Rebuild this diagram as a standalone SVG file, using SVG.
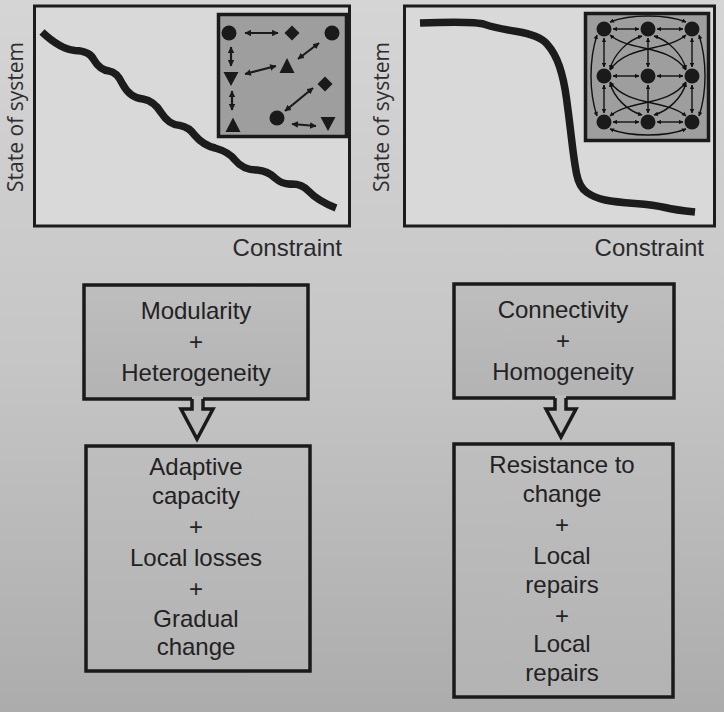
<svg xmlns="http://www.w3.org/2000/svg" width="724" height="712" viewBox="0 0 724 712">
<defs>
<linearGradient id="bg" x1="0" y1="0" x2="0" y2="1">
<stop offset="0" stop-color="#d5d5d5"/>
<stop offset="0.5" stop-color="#c6c6c6"/>
<stop offset="1" stop-color="#acacac"/>
</linearGradient>
<linearGradient id="boxfill" x1="0" y1="0" x2="0" y2="1">
<stop offset="0" stop-color="#bebebe"/>
<stop offset="1" stop-color="#b3b3b3"/>
</linearGradient>
<marker id="ah" viewBox="0 0 6 6" refX="5.5" refY="3" markerWidth="6.5" markerHeight="6.5" markerUnits="userSpaceOnUse" orient="auto-start-reverse">
<path d="M0,0 L6,3 L0,6 z" fill="#1a1a1a"/>
</marker>
<marker id="ah2" viewBox="0 0 6 6" refX="5.5" refY="3" markerWidth="4.5" markerHeight="4.5" markerUnits="userSpaceOnUse" orient="auto-start-reverse">
<path d="M0,0 L6,3 L0,6 z" fill="#111"/>
</marker>
</defs>
<style>
.frame{fill:#d9d9d9;stroke:#1c1c1c;stroke-width:3}
.curve{fill:none;stroke:#1c1c1c;stroke-width:7.5;stroke-linecap:butt;stroke-linejoin:round}
.inset{fill:#9e9e9e;stroke:#1a1a1a;stroke-width:3.5}
.sh{fill:#1a1a1a}
.ar{stroke:#1a1a1a;stroke-width:2.2;fill:none;marker-start:url(#ah);marker-end:url(#ah)}
.nw{stroke:#111;stroke-width:1.4;fill:none;marker-start:url(#ah2);marker-end:url(#ah2)}
.ax{font-family:"Open Sans","DejaVu Sans",sans-serif;font-size:21px;fill:#2e2e2e}
.cx{font-family:"Liberation Sans",Arial,sans-serif;font-size:24px;fill:#2a2a2a;text-anchor:end}
.box{stroke:#1a1a1a;stroke-width:3.5;fill:url(#boxfill)}
.bt{font-family:"Liberation Sans",Arial,sans-serif;font-size:24px;fill:#222;text-anchor:middle}
.hol{fill:none;stroke:#1a1a1a;stroke-width:3.5;stroke-linejoin:miter}
</style>
<rect x="0" y="0" width="724" height="712" fill="url(#bg)"/>

<g id="plot-left">
<rect class="frame" x="34.5" y="6" width="315" height="220"/>
<path class="curve" d="M42,32 Q60,49 75,50.5 Q90,51 94,60 Q100,70 109,71 Q117,72 122.5,84 Q130,98 143,99 Q154,101 161,112.5 Q169,125 180,125.5 Q189,127 195,135.5 Q203,145 215,148 Q229,152 235,160 Q243,170 257,170 Q268,171 275,178 Q283,185 292,184 Q302,184 308.5,191 Q318,201 336,208"/>
<rect class="inset" x="218.5" y="14.5" width="128" height="122"/>
<circle class="sh" cx="229" cy="33" r="7.5"/>
<polygon class="sh" points="292,25.5 299.5,33 292,40.5 284.5,33"/>
<circle class="sh" cx="332" cy="33" r="7.5"/>
<polygon class="sh" points="223.5,72 238.5,72 231,86"/>
<polygon class="sh" points="279.5,73 294.5,73 287,58"/>
<polygon class="sh" points="325,76.5 332.5,84 325,91.5 317.5,84"/>
<polygon class="sh" points="225.5,132 240.5,132 233,117.5"/>
<circle class="sh" cx="277" cy="118" r="7.5"/>
<polygon class="sh" points="320.5,117 335.5,117 328,131"/>
<line class="ar" x1="245" y1="33" x2="278" y2="33"/>
<line class="ar" x1="231" y1="47" x2="231" y2="66"/>
<line class="ar" x1="232" y1="91" x2="232" y2="110"/>
<line class="ar" x1="245" y1="74" x2="276" y2="66"/>
<line class="ar" x1="319" y1="43" x2="298" y2="59"/>
<line class="ar" x1="313" y1="88" x2="285" y2="111"/>
<line class="ar" x1="292" y1="124" x2="316" y2="126"/>
<text class="ax" transform="translate(23,117) rotate(-90)" text-anchor="middle">State of system</text>
<text class="cx" x="342" y="256">Constraint</text>
</g>

<g id="plot-right">
<rect class="frame" x="404.5" y="6" width="310" height="220"/>
<path class="curve" d="M420,23 Q475,21 485,24.5 Q495,28 517,31.5 Q539,35 547,44 Q555,53 559.5,66.5 Q564,80 566.5,98.5 Q569,117 571.5,138.5 Q574,160 576.5,173.5 Q579,187 587,192.5 Q595,198 605,200 Q615,202 635,203.5 Q655,205 665,207.5 Q675,210 695,212"/>
<rect class="inset" x="585.5" y="13.5" width="123" height="127"/>
<g id="network">
<path class="nw" d="M610,22 C630,14 666,14 686,22"/>
<path class="nw" d="M610,129 C630,137 666,137 686,129"/>
<path class="nw" d="M597,35 C589,60 589,92 597,116"/>
<path class="nw" d="M699,35 C707,60 707,92 699,116"/>
<path class="nw" d="M610,35 C630,52 668,44 686,70"/>
<path class="nw" d="M686,35 C666,52 628,44 610,70"/>
<path class="nw" d="M610,116 C630,99 668,107 686,82"/>
<path class="nw" d="M686,116 C666,99 628,107 610,82"/>
<path class="nw" d="M642,36 C628,40 614,54 610,69"/>
<path class="nw" d="M654,36 C668,40 682,54 686,69"/>
<path class="nw" d="M642,115 C628,111 614,98 610,83"/>
<path class="nw" d="M654,115 C668,111 682,98 686,83"/>
<line class="nw" x1="613" y1="29" x2="639" y2="29"/>
<line class="nw" x1="657" y1="29" x2="683" y2="29"/>
<line class="nw" x1="613" y1="76" x2="639" y2="76"/>
<line class="nw" x1="657" y1="76" x2="683" y2="76"/>
<line class="nw" x1="613" y1="122" x2="639" y2="122"/>
<line class="nw" x1="657" y1="122" x2="683" y2="122"/>
<line class="nw" x1="604" y1="38" x2="604" y2="67"/>
<line class="nw" x1="604" y1="85" x2="604" y2="113"/>
<line class="nw" x1="648" y1="38" x2="648" y2="67"/>
<line class="nw" x1="648" y1="85" x2="648" y2="113"/>
<line class="nw" x1="692" y1="38" x2="692" y2="67"/>
<line class="nw" x1="692" y1="85" x2="692" y2="113"/>
<circle class="sh" cx="604" cy="29" r="7.5"/>
<circle class="sh" cx="648" cy="29" r="7.5"/>
<circle class="sh" cx="692" cy="29" r="7.5"/>
<circle class="sh" cx="604" cy="76" r="7.5"/>
<circle class="sh" cx="648" cy="76" r="7.5"/>
<circle class="sh" cx="692" cy="76" r="7.5"/>
<circle class="sh" cx="604" cy="122" r="7.5"/>
<circle class="sh" cx="648" cy="122" r="7.5"/>
<circle class="sh" cx="692" cy="122" r="7.5"/>
</g>
<text class="ax" transform="translate(389,117) rotate(-90)" text-anchor="middle">State of system</text>
<text class="cx" x="704" y="256">Constraint</text>
</g>

<g id="box-modularity">
<rect class="box" x="84" y="285" width="224" height="114"/>
<text class="bt" x="196" y="319">Modularity</text>
<text class="bt" x="196" y="350">+</text>
<text class="bt" x="196" y="381">Heterogeneity</text>
</g>

<g id="box-adaptive">
<rect class="box" x="86" y="446" width="224" height="225"/>
<text class="bt" x="196" y="475">Adaptive</text>
<text class="bt" x="196" y="504">capacity</text>
<text class="bt" x="196" y="535">+</text>
<text class="bt" x="196" y="566">Local losses</text>
<text class="bt" x="196" y="597">+</text>
<text class="bt" x="196" y="627">Gradual</text>
<text class="bt" x="196" y="655">change</text>
</g>

<g id="box-connectivity">
<rect class="box" x="454" y="284" width="220" height="114"/>
<text class="bt" x="563" y="318">Connectivity</text>
<text class="bt" x="563" y="349">+</text>
<text class="bt" x="563" y="380">Homogeneity</text>
</g>

<g id="box-resistance">
<rect class="box" x="454" y="444" width="219" height="253"/>
<text class="bt" x="562" y="473">Resistance to</text>
<text class="bt" x="562" y="502">change</text>
<text class="bt" x="562" y="533">+</text>
<text class="bt" x="562" y="564">Local</text>
<text class="bt" x="562" y="593">repairs</text>
<text class="bt" x="562" y="624">+</text>
<text class="bt" x="562" y="652">Local</text>
<text class="bt" x="562" y="681">repairs</text>
</g>

<g id="connectors">
<polygon points="192,396 192,409 181,409 197,439 213,409 203,409 203,396" fill="#bcbcbc" stroke="none"/>
<path class="hol" d="M192,399 L192,409 L181,409 L197,439 L213,409 L203,409 L203,399"/>
<polygon points="555,395 555,409 546,409 561,437 576,409 566,409 566,395" fill="#bcbcbc" stroke="none"/>
<path class="hol" d="M555,398 L555,409 L546,409 L561,437 L576,409 L566,409 L566,398"/>
</g>
</svg>
